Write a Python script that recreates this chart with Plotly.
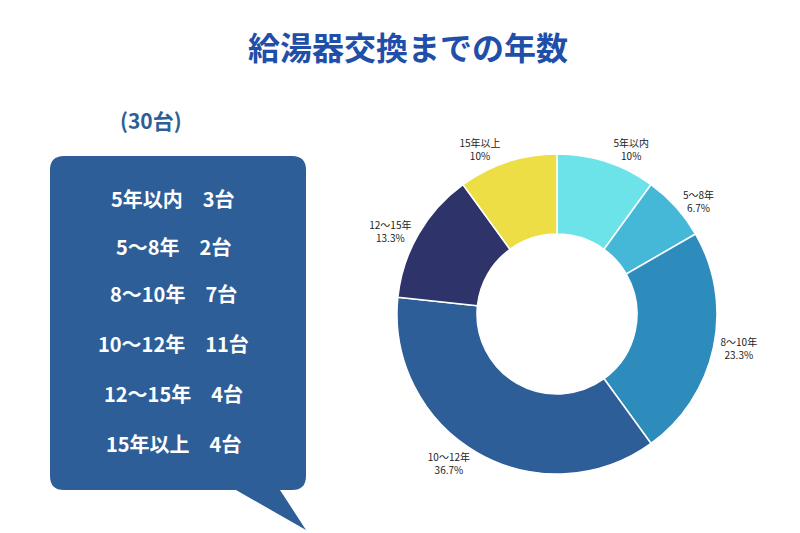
import plotly.graph_objects as go

# data
categories = ["5年以内", "5〜8年", "8〜10年", "10〜12年", "12〜15年", "15年以上"]
counts = [3, 2, 7, 11, 4, 3]
colors = ["#6BE3E8", "#45B8D8", "#2E8CBC", "#2E5E98", "#2E336A", "#EEDE45"]
list_labels = ["5年以内　3台", "5〜8年　2台", "8〜10年　7台",
               "10〜12年　11台", "12〜15年　4台", "15年以上　4台"]
list_y = [190, 238, 285, 335, 385, 435]
total = sum(counts)

FONT = "Noto Sans CJK JP"

pct = []
for c in counts:
    p = round(c / total * 100, 1)
    pct.append(f"{p:g}%")

fig = go.Figure()
fig.add_trace(go.Pie(
    labels=categories, values=counts, customdata=pct,
    marker=dict(colors=colors, line=dict(color="white", width=1.5)),
    hole=0.5, sort=False, direction="clockwise", rotation=0,
    texttemplate="%{label}<br>%{customdata}", textposition="outside",
    textfont=dict(family=FONT, size=10, color="#222"),
    domain=dict(x=[389/800, 709/800], y=[1-466/533, 1-146/533]),
    showlegend=False, automargin=False,
))

# speech bubble
fig.add_shape(type="path", xref="x", yref="y",
              path="M 56,148 L 284,148 Q 298,148 298,162 L 298,468 Q 298,482 284,482 "
                   "L 272,482 L 298,522 L 228,482 L 56,482 Q 42,482 42,468 L 42,162 Q 42,148 56,148 Z",
              fillcolor="#2E5E98", line=dict(width=0), layer="below")

for txt, y in zip(list_labels, list_y):
    fig.add_annotation(x=165, y=y, xref="x", yref="y", text=f"<b>{txt}</b>",
                       showarrow=False, font=dict(family=FONT, size=20, color="white"))

fig.add_annotation(x=143, y=112, xref="x", yref="y", text=f"<b>({total}台)</b>",
                   showarrow=False, font=dict(family=FONT, size=21, color="#2E5E98"))
fig.add_annotation(x=400, y=38, xref="x", yref="y", text="<b>給湯器交換までの年数</b>",
                   showarrow=False, font=dict(family=FONT, size=32, color="#1F4FA8"))

fig.update_xaxes(range=[0, 800], visible=False)
fig.update_yaxes(range=[533, 0], visible=False)
fig.update_layout(width=800, height=533, margin=dict(l=0, r=0, t=0, b=0),
                  plot_bgcolor="white", paper_bgcolor="white")
fig.write_html("out.html")
